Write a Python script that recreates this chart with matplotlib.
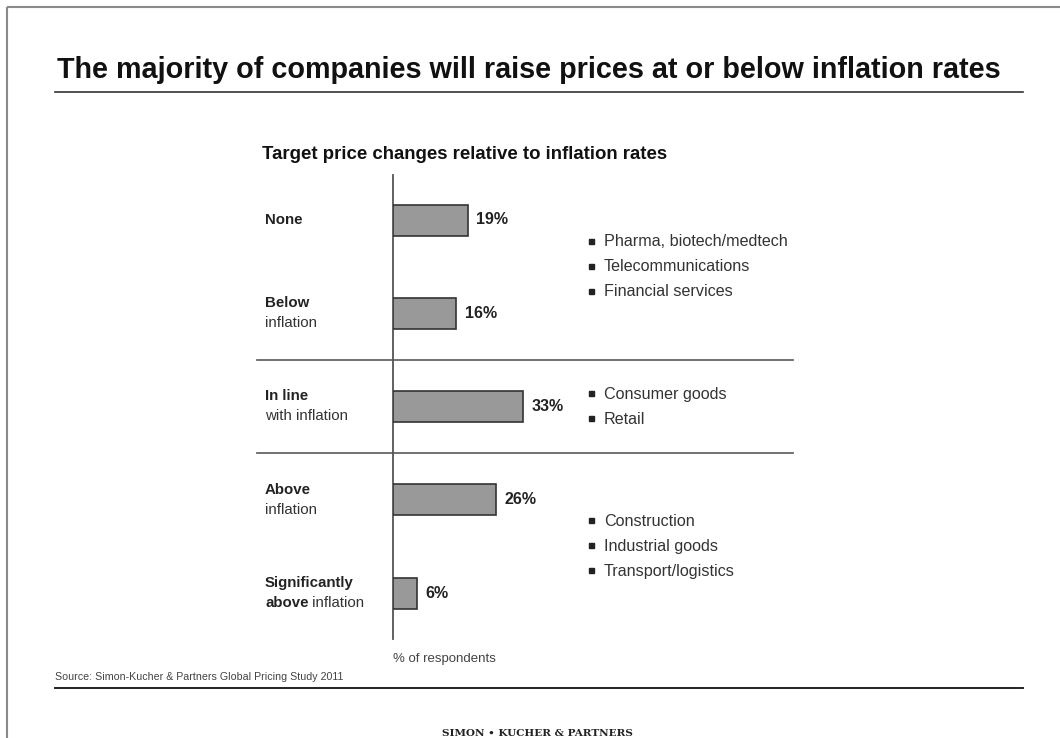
import matplotlib.pyplot as plt
from matplotlib.transforms import blended_transform_factory
from matplotlib.patches import Rectangle

plt.rcParams['font.family'] = ['Liberation Sans', 'DejaVu Sans']

# data
values = [19, 16, 33, 26, 6]
label_bold = ['None', 'Below', 'In line', 'Above', 'Significantly']
label_second_bold = ['', '', '', '', 'above']
label_second = ['', 'inflation', 'with inflation', 'inflation', ' inflation']
sectors = [
    ['Pharma, biotech/medtech', 'Telecommunications', 'Financial services'],
    ['Consumer goods', 'Retail'],
    ['Construction', 'Industrial goods', 'Transport/logistics'],
]
sector_rows = [0.5, 2.0, 3.5]
separators = [1.5, 2.5]

title = 'The majority of companies will raise prices at or below inflation rates'
subtitle = 'Target price changes relative to inflation rates'
source = 'Source: Simon-Kucher & Partners Global Pricing Study 2011'

W, H = 1060, 738
fig = plt.figure(figsize=(W / 100, H / 100), dpi=100)
fig.patch.set_facecolor('white')

# pixel-space overlay for frame, rules and page text
pg = fig.add_axes([0, 0, 1, 1])
pg.set_xlim(0, W)
pg.set_ylim(H, 0)
pg.axis('off')
pg.patch.set_alpha(0)
pg.add_patch(Rectangle((7, 7), W + 20, H + 20, fill=False, ec='#8a8a8a', lw=1.5))

pg.text(57, 78, title, fontsize=20.7, fontweight='bold', color='#111111', va='baseline')
pg.plot([55, 1023], [92, 92], color='#333333', lw=1.2)
pg.text(262, 159, subtitle, fontsize=13.4, fontweight='bold', color='#111111', va='baseline')
pg.text(55, 677, source, fontsize=7.7, color='#444444', va='center')
pg.plot([55, 1023], [688, 688], color='#222222', lw=1.4)
pg.text(537, 734, 'SIMON \u2022 KUCHER & PARTNERS', family='DejaVu Serif', fontweight='bold',
        fontsize=7.5, color='#222222', ha='center', va='center')

# bar axes
px_per_pct = 3.95
ax_left, ax_top, ax_bottom, ax_w = 393, 175, 639, 400
row0, row_step = 220, 93.25
ax = fig.add_axes([ax_left / W, (H - ax_bottom) / H, ax_w / W, (ax_bottom - ax_top) / H])
ax.set_xlim(0, ax_w / px_per_pct)
ax.set_ylim((ax_bottom - row0) / row_step, -(row0 - ax_top) / row_step)
ax.patch.set_alpha(0)
for s in ['top', 'right', 'bottom']:
    ax.spines[s].set_visible(False)
ax.spines['left'].set_color('#555555')
ax.spines['left'].set_linewidth(1.3)
ax.set_xticks([])
ax.set_yticks([])

rows = range(len(values))
ax.barh(rows, values, height=31 / row_step, color='#999999', edgecolor='#333333', lw=1.2, zorder=3)
for i, v in zip(rows, values):
    ax.annotate(f'{v}%', xy=(v, i), xytext=(6, 0), textcoords='offset points',
                fontsize=11.5, fontweight='bold', color='#222222', va='center', ha='left')

# separators reach left past the axis, under the category labels
sep_tr = blended_transform_factory(fig.transFigure, ax.transData)
for y in separators:
    ax.plot([257 / W, 793 / W], [y, y], transform=sep_tr, color='#666666', lw=1.3, clip_on=False)

# category labels
lab_tr = blended_transform_factory(fig.transFigure, ax.transData)
line_gap = 10 / row_step
fs = 10.8
for i in rows:
    if not label_second[i] and not label_second_bold[i]:
        ax.text(265 / W, i, label_bold[i], transform=lab_tr, fontsize=fs, fontweight='bold',
                color='#222222', va='center')
        continue
    ax.text(265 / W, i - line_gap, label_bold[i], transform=lab_tr, fontsize=fs,
            fontweight='bold', color='#222222', va='center')
    if label_second_bold[i]:
        b = ax.text(265 / W, i + line_gap, label_second_bold[i], transform=lab_tr, fontsize=fs,
                    fontweight='bold', color='#222222', va='center')
        ax.annotate(label_second[i], xy=(1, 0.5), xycoords=b, fontsize=fs,
                    color='#333333', va='center', ha='left')
    else:
        ax.text(265 / W, i + line_gap, label_second[i], transform=lab_tr, fontsize=fs,
                color='#333333', va='center')

# sector bullet lists
bul_tr = blended_transform_factory(ax.transAxes, ax.transData)
step = 25 / row_step
for names, center in zip(sectors, sector_rows):
    n = len(names)
    for k, name in enumerate(names):
        y = center + (k - (n - 1) / 2) * step
        ax.plot([(591 - ax_left) / ax_w], [y - 0.012], marker='s', ms=3.6, color='#222222',
                transform=bul_tr, clip_on=False)
        ax.text((604 - ax_left) / ax_w, y, name, transform=bul_tr, fontsize=11.6,
                color='#333333', va='center', ha='left', clip_on=False)

ax.text(0, -0.03, '% of respondents', transform=ax.transAxes, fontsize=9.5,
        color='#444444', va='top', ha='left')

fig.savefig('out.png', dpi=100)
